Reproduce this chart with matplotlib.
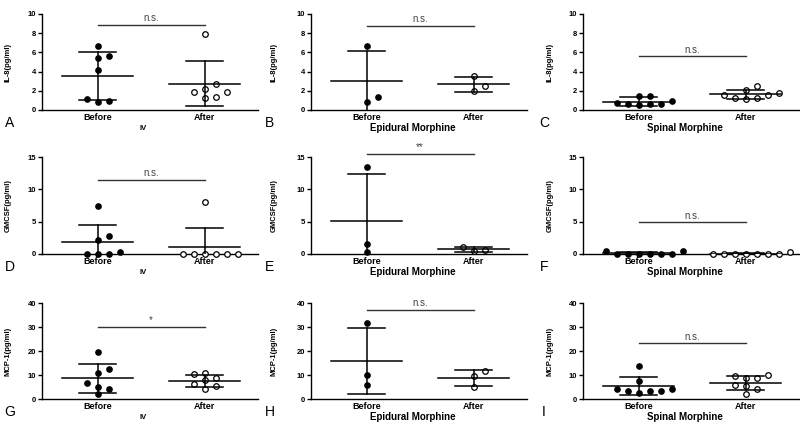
import numpy as np
import matplotlib
matplotlib.use("Agg")
import matplotlib.pyplot as plt

plt.rcParams['font.family'] = ['Liberation Sans', 'DejaVu Sans']

categories = ["Before", "After"]
groups = ["IV", "Epidural Morphine", "Spinal Morphine"]
ylabels = ["IL-8(pg/ml)", "GMCSF(pg/ml)", "MCP-1(pg/ml)"]
yticks = [[0, 2, 4, 6, 8, 10], [0, 5, 10, 15], [0, 10, 20, 30, 40]]
letters = ["A", "B", "C", "D", "E", "F", "G", "H", "I"]

# IL-8
il8_iv_before = [6.67, 5.45, 5.6, 4.13, 1.1, 0.83, 0.94]
il8_iv_after = [7.88, 2.7, 1.84, 2.19, 1.91, 1.25, 1.39]
il8_iv_mean = [3.55, 2.75]
il8_iv_sd = [2.5, 2.35]
il8_epi_before = [6.67, 0.8, 1.39]
il8_epi_after = [3.5, 2.5, 1.98]
il8_epi_mean = [2.99, 2.67]
il8_epi_sd = [3.17, 0.76]
il8_spi_before = [0.73, 0.6, 0.5, 1.5, 1.5, 0.6, 0.6, 0.97]
il8_spi_after = [2.5, 1.6, 1.25, 1.15, 1.3, 2.05, 1.6, 1.75]
il8_spi_mean = [0.87, 1.63]
il8_spi_sd = [0.45, 0.45]

# GM-CSF
gm_iv_before = [7.45, 2.85, 2.17, 0.3, 0, 0, 0]
gm_iv_after = [7.97, 0, 0, 0, 0, 0, 0]
gm_iv_mean = [1.86, 1.09]
gm_iv_sd = [2.66, 2.94]
gm_epi_before = [13.43, 1.52, 0.37]
gm_epi_after = [1.1, 0.55, 0.5]
gm_epi_mean = [5.17, 0.73]
gm_epi_sd = [7.2, 0.4]
gm_spi_before = [0.52, 0.05, 0, 0, 0.05, 0, 0, 0.52]
gm_spi_after = [0, 0, 0, 0, 0, 0, 0, 0.35]
gm_spi_mean = [0.14, 0.05]
gm_spi_sd = [0.22, 0.12]

# MCP-1
mcp_iv_before = [19.4, 10.8, 12.5, 6.5, 5.1, 4.2, 2.1]
mcp_iv_after = [11.0, 10.3, 8.05, 8.9, 6.25, 5.3, 4.2]
mcp_iv_mean = [8.65, 7.7]
mcp_iv_sd = [6.05, 2.5]
mcp_epi_before = [31.7, 10.1, 5.8]
mcp_epi_after = [11.8, 9.4, 5.1]
mcp_epi_mean = [15.9, 8.9]
mcp_epi_sd = [13.7, 3.3]
mcp_spi_before = [13.6, 7.6, 4.3, 3.5, 2.5, 3.5, 3.5, 4.3]
mcp_spi_after = [9.7, 9.9, 8.7, 8.7, 5.3, 5.8, 4.3, 2.1]
mcp_spi_mean = [5.4, 6.7]
mcp_spi_sd = [3.7, 2.8]

sig_y = [8.9, 8.8, 5.6, 11.5, 15.5, 4.9, 30, 37.2, 23.3]
sig_text = ["n.s.", "n.s.", "n.s.", "n.s.", "**", "n.s.", "*", "n.s.", "n.s."]

panels = [
    (il8_iv_before, il8_iv_after, il8_iv_mean, il8_iv_sd),
    (il8_epi_before, il8_epi_after, il8_epi_mean, il8_epi_sd),
    (il8_spi_before, il8_spi_after, il8_spi_mean, il8_spi_sd),
    (gm_iv_before, gm_iv_after, gm_iv_mean, gm_iv_sd),
    (gm_epi_before, gm_epi_after, gm_epi_mean, gm_epi_sd),
    (gm_spi_before, gm_spi_after, gm_spi_mean, gm_spi_sd),
    (mcp_iv_before, mcp_iv_after, mcp_iv_mean, mcp_iv_sd),
    (mcp_epi_before, mcp_epi_after, mcp_epi_mean, mcp_epi_sd),
    (mcp_spi_before, mcp_spi_after, mcp_spi_mean, mcp_spi_sd),
]

W, H = 800, 425
col_left = [42, 311, 583]
row_zero = [110, 254, 399]
row_top = [14, 157, 303]
ax_w = 216
XLIM = (-0.52, 1.5)
letter_x = [10, 270, 544]
ylabel_x = [8, 274, 550]


def swarm(vals, ppu_y, ppu_x, step=11.0, min_d=7.0):
    """column-scatter offsets (like GraphPad): spread points that collide."""
    vals = np.asarray(vals, float)
    offs = np.zeros(len(vals))
    placed = []
    cands = [0] + [s * j for j in range(1, 12) for s in (1, -1)]
    for i in np.argsort(vals, kind="stable"):
        y = vals[i] * ppu_y
        for c in cands:
            x = c * step
            if all((x - px) ** 2 + (y - py) ** 2 >= min_d ** 2 for px, py in placed):
                break
        placed.append((x, y))
        offs[i] = x / ppu_x
    return offs


fig = plt.figure(figsize=(8, 4.25), dpi=100)
lw = 1.1
for k, (before, after, mean, sd) in enumerate(panels):
    r, c = divmod(k, 3)
    left = col_left[c] / W
    bottom = 1 - row_zero[r] / H
    height = (row_zero[r] - row_top[r]) / H
    ax = fig.add_axes([left, bottom, ax_w / W, height])
    ymax = yticks[r][-1]
    ax.set_xlim(*XLIM)
    ax.set_ylim(0, ymax)
    ppu_y = (row_zero[r] - row_top[r]) / ymax
    ppu_x = ax_w / (XLIM[1] - XLIM[0])

    for j, vals in enumerate([before, after]):
        offs = swarm(vals, ppu_y, ppu_x)
        if j == 0:
            ax.plot(j + offs, vals, "o", ms=3.8, color="black", clip_on=False, zorder=3)
        else:
            ax.plot(j + offs, vals, "o", ms=4.0, mfc="white", mec="black", mew=0.9,
                    clip_on=False, zorder=3)
        m, s = mean[j], sd[j]
        ax.plot([j - 0.33, j + 0.33], [m, m], color="black", lw=lw, zorder=4)
        ax.plot([j, j], [m - s, m + s], color="black", lw=lw, zorder=4)
        for v in (m - s, m + s):
            if v >= 0:
                ax.plot([j - 0.17, j + 0.17], [v, v], color="black", lw=lw, zorder=4)

    ax.plot([0, 1], [sig_y[k], sig_y[k]], color="#333333", lw=1.0, clip_on=False)
    ax.text(0.5, sig_y[k] + ymax * 0.015, sig_text[k], ha="center", va="bottom",
            fontsize=7, color="#444444", clip_on=False)

    for side in ("top", "right"):
        ax.spines[side].set_visible(False)
    for side in ("left", "bottom"):
        ax.spines[side].set_linewidth(1.0)
    ax.set_yticks(yticks[r])
    ax.tick_params(axis="y", length=3, width=1.0, pad=1, labelsize=5.5)
    for t in ax.get_yticklabels():
        t.set_fontweight("bold")
    ax.set_xticks([0, 1])
    ax.set_xticklabels(categories, fontsize=6.5, fontweight="bold")
    ax.tick_params(axis="x", length=0, pad=2)

    gsize = 5.5 if c == 0 else 7
    ax.text(0.47, -0.19, groups[c], transform=ax.transAxes, ha="center", va="center",
            fontsize=gsize, fontweight="bold")

    fig.text(ylabel_x[c] / W, 1 - (row_top[r] + row_zero[r]) / 2 / H, ylabels[r],
             rotation=90, ha="center", va="center", fontsize=5.5, fontweight="bold")
    fig.text(letter_x[c] / W, 1 - (row_zero[r] + 13) / H, letters[k],
             ha="center", va="center", fontsize=10)

fig.savefig("out.png", dpi=100, facecolor="white")
